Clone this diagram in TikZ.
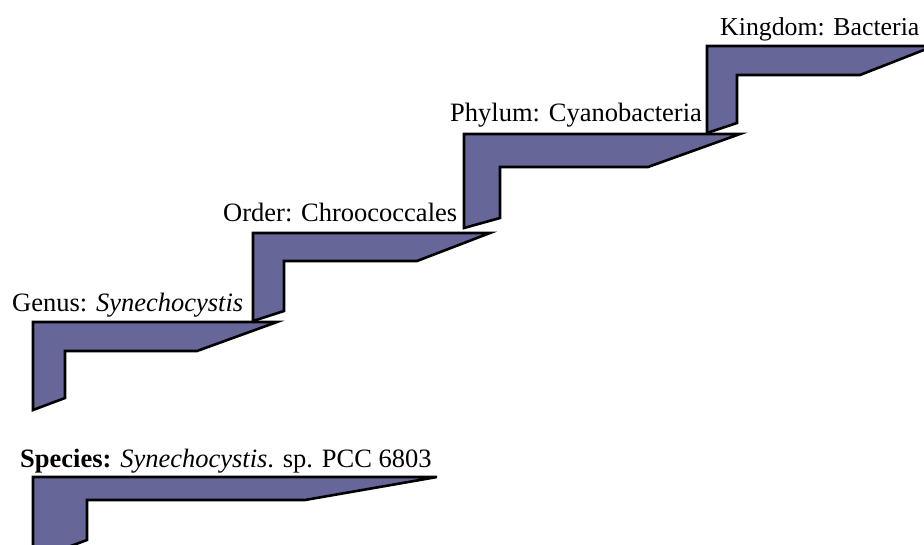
\documentclass[tikz,border=0pt]{standalone}
\usepackage{fontspec}
\setmainfont{Liberation Serif}
\definecolor{stepfill}{RGB}{102,102,153}
\tikzset{
  stepshape/.style={draw=black, fill=stepfill, line width=2.6pt, line join=miter},
  steplabel/.style={inner sep=0pt, anchor=base west, font=\fontsize{26.5}{30}\selectfont}
}
\begin{document}
\begin{tikzpicture}[x=1pt,y=-1pt]
\useasboundingbox (0,0) rectangle (924,545);
\clip (0,0) rectangle (924,545);
\fill[white] (0,0) rectangle (924,545);
% steps
\draw[stepshape] (707,46) -- (934,46) -- (860,75) -- (737,75) -- (737,123) -- (707,133) -- cycle;
\draw[stepshape] (464,134) -- (740,134) -- (648,167) -- (500,167) -- (500,218) -- (464,228) -- cycle;
\draw[stepshape] (253,233) -- (490,233) -- (417,261) -- (284,261) -- (284,311) -- (253,321) -- cycle;
\draw[stepshape] (33,322) -- (277,322) -- (197,351) -- (65,351) -- (65,398) -- (33,410) -- cycle;
\draw[stepshape] (33,477) -- (437,477) -- (305,500) -- (87,500) -- (87,540) -- (33,560) -- cycle;
% labels
\node[steplabel, font=\fontsize{25.8}{30}\selectfont] (kingdom) at (720,36) {Kingdom: Bacteria};
\node[steplabel] (phylum) at (450,122) {Phylum: Cyanobacteria};
\node[steplabel] (order) at (223,222) {Order: Chroococcales};
\node[steplabel] (genus) at (12,312) {Genus: \textit{Synechocystis}};
\node[steplabel] (species) at (20,467) {\textbf{Species:} \textit{Synechocystis}. sp. PCC 6803};
\end{tikzpicture}
\end{document}
